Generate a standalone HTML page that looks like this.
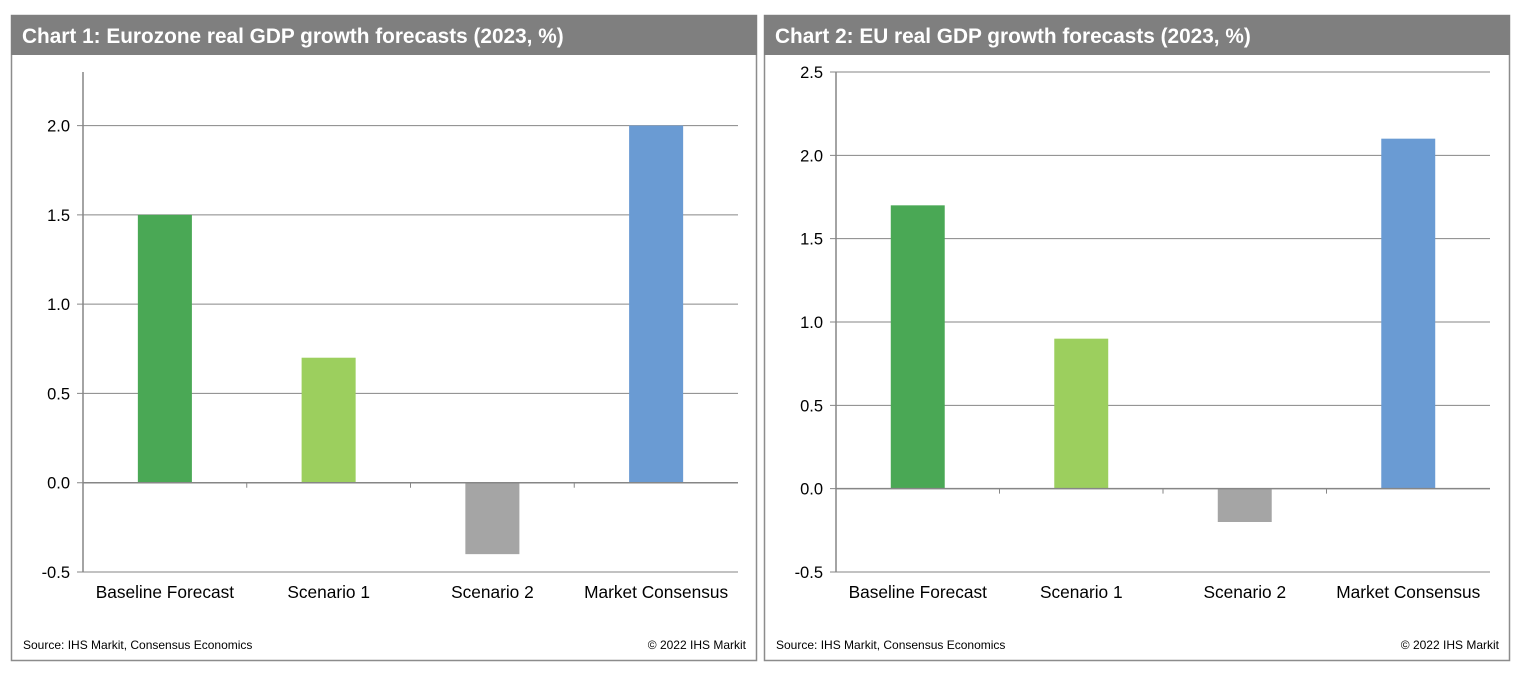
<!DOCTYPE html>
<html><head><meta charset="utf-8"><style>
body{margin:0;background:#fff;width:1524px;height:678px;overflow:hidden;font-family:"Liberation Sans",Arial,sans-serif}
svg{position:absolute;left:0;top:0}
</style></head><body>
<svg width="1524" height="678" id="svg"></svg>
<script>
const categories=["Baseline Forecast","Scenario 1","Scenario 2","Market Consensus"];
const colors=["#4aa855","#9ccf5e","#a5a5a5","#6a9bd3"];
const ezValues=[1.5,0.7,-0.4,2.0];
const euValues=[1.7,0.9,-0.2,2.1];
const ezTicks=[-0.5,0,0.5,1.0,1.5,2.0];
const euTicks=[-0.5,0,0.5,1.0,1.5,2.0,2.5];
const NS="http://www.w3.org/2000/svg";
const svg=document.getElementById('svg');
function mk(tag,attrs,parent,text){const e=document.createElementNS(NS,tag);for(const k in attrs)e.setAttribute(k,attrs[k]);if(text!==undefined)e.textContent=text;(parent||svg).appendChild(e);return e;}
function chart(cfg){
  const g=mk('g',{});
  
  
  const p=mk('rect',{x:cfg.px+0.5,y:15.5,width:745,height:645,fill:'#fff',stroke:'#8c8c8c','stroke-width':1.5},g);
  
  const h=mk('rect',{x:cfg.px,y:15,width:746,height:40,fill:'#7f7f7f'},g);
  
  const t=mk('text',{x:cfg.px+11,y:43,fill:'#fff','font-size':20.8,'font-weight':'bold'},g,cfg.title);
  
  const L=cfg.left,R=cfg.right,top=72,bot=572,ymin=-0.5,ymax=cfg.ymax;
  const y=v=>bot-(v-ymin)/(ymax-ymin)*(bot-top);
  const bw=(R-L)/categories.length;
  cfg.ticks.forEach(v=>{
    const gl=mk('line',{x1:L-6,x2:R,y1:y(v),y2:y(v),stroke:'#868686','stroke-width':1},g);
    
    const tl=mk('text',{x:L-13,y:y(v)+6,'text-anchor':'end','font-size':16.5,fill:'#000'},g,v.toFixed(1));
    
  });
  const ax=mk('line',{x1:L,x2:L,y1:top,y2:bot,stroke:'#868686','stroke-width':1.5},g);
  
  cfg.values.forEach((v,i)=>{
    const cx=L+bw*(i+0.5);
    const r=mk('rect',{x:cx-bw*0.165,width:bw*0.33,y:Math.min(y(v),y(0)),height:Math.abs(y(v)-y(0)),fill:colors[i]},g);
    
    
    const cl=mk('text',{x:cx,y:598,'text-anchor':'middle','font-size':17.3,fill:'#000'},g,categories[i]);
    
    if(i>0){const tk=mk('line',{x1:L+bw*i,x2:L+bw*i,y1:y(0),y2:y(0)+5,stroke:'#868686'},g);
      }
  });
  const za=mk('line',{x1:L,x2:R,y1:y(0),y2:y(0),stroke:'#868686','stroke-width':1.5},g);
  
  const s=mk('text',{x:cfg.px+12,y:649,'font-size':12,fill:'#000'},g,'Source:  IHS Markit, Consensus Economics');
  
  const c=mk('text',{x:cfg.px+735,y:649,'text-anchor':'end','font-size':12,fill:'#000'},g,'© 2022  IHS Markit');
  
}
chart({name:'eurozone-chart',px:11,title:'Chart 1: Eurozone real GDP growth forecasts (2023, %)',left:83,right:738,ymax:2.3,ticks:ezTicks,values:ezValues});
chart({name:'eu-chart',px:764,title:'Chart 2: EU real GDP growth forecasts (2023, %)',left:836,right:1490,ymax:2.5,ticks:euTicks,values:euValues});
</script>
</body></html>
